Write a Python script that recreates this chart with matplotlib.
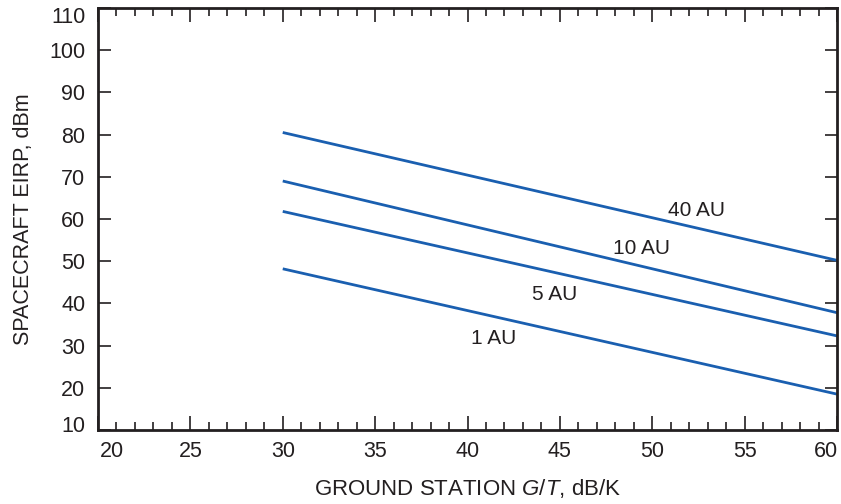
import matplotlib
matplotlib.use("Agg")
import matplotlib.pyplot as plt
import matplotlib.transforms as mtransforms
from matplotlib.ticker import MultipleLocator

plt.rcParams["font.family"] = ["Liberation Sans", "DejaVu Sans"]
plt.rcParams["mathtext.fontset"] = "custom"
plt.rcParams["mathtext.rm"] = "Liberation Sans"
plt.rcParams["mathtext.it"] = "Liberation Sans:italic"

# --- data ---
gt_range = [30, 60]
curves = {
    "40 AU": [80.5, 50.2],
    "10 AU": [69.0, 37.8],
    "5 AU":  [61.8, 32.3],
    "1 AU":  [48.2, 18.5],
}
label_pos = {
    "40 AU": (52.4, 62.1),
    "10 AU": (49.4, 53.1),
    "5 AU":  (44.7, 42.0),
    "1 AU":  (41.4, 31.6),
}

LINE = "#1a5fb0"
INK = "#231f20"
FS = 15.5

fig = plt.figure(figsize=(8.41, 5.04), dpi=100)
ax = fig.add_axes([98 / 841, 1 - 430 / 504, (837 - 98) / 841, (430 - 8) / 504])

for name, ys in curves.items():
    ax.plot(gt_range, ys, color=LINE, lw=2.0, solid_capstyle="butt")
    x, y = label_pos[name]
    ax.text(x, y, name, fontsize=15, color=INK, ha="center", va="center")

ax.set_xlim(20, 60)
ax.set_ylim(10, 110)
ax.xaxis.set_major_locator(MultipleLocator(5))
ax.xaxis.set_minor_locator(MultipleLocator(1))
ax.yaxis.set_major_locator(MultipleLocator(10))

ax.tick_params(axis="x", which="major", direction="in", top=True, length=10,
               width=1.2, labelsize=FS, colors=INK, pad=8)
ax.tick_params(axis="x", which="minor", direction="in", top=True, length=6,
               width=1.2, colors=INK)
ax.tick_params(axis="y", which="major", direction="in", right=True, length=9,
               width=1.2, labelsize=FS, colors=INK, pad=9)

for s in ax.spines.values():
    s.set_linewidth(2.0)
    s.set_color(INK)

ax.set_xlabel(r"GROUND STATION $G/T$, dB/K", fontsize=16, color=INK, labelpad=11)
ax.set_ylabel("SPACECRAFT EIRP, dBm", fontsize=FS, color=INK, labelpad=11)

# nudge the end labels inward like the original
fig.canvas.draw()
def nudge(lbl, dx, dy):
    lbl.set_transform(lbl.get_transform() +
                      mtransforms.ScaledTranslation(dx / 72, dy / 72, fig.dpi_scale_trans))
for lbl in ax.get_xticklabels():
    if lbl.get_text() == "20":
        nudge(lbl, 10, 0)
    if lbl.get_text() == "60":
        nudge(lbl, -8, 0)
for lbl in ax.get_yticklabels():
    if lbl.get_text() == "110":
        nudge(lbl, 0, -5)
    if lbl.get_text() == "10":
        nudge(lbl, 0, 4)

fig.savefig("out.png", dpi=100)
